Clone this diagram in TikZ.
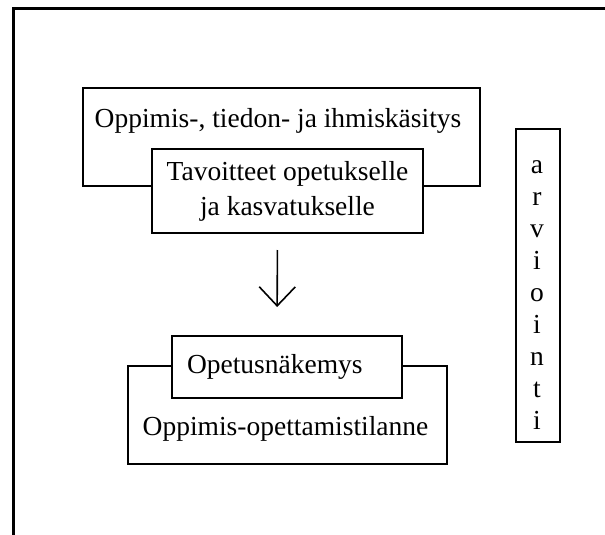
\documentclass[tikz,border=0pt]{standalone}
\usepackage{fontspec}
\setmainfont{Liberation Serif}
\usepackage{tikz}
\usetikzlibrary{arrows.meta,positioning}
\tikzset{
  kehys/.style={line width=3pt,line cap=rect},
  laatikko/.style={draw,line width=2pt,fill=white,inner sep=0pt},
  teksti/.style={font=\fontsize{27.5}{35}\selectfont},
  nuoli/.style={-{Straight Barb[length=19pt,width=36pt,line width=1.6pt]},line width=1.6pt}
}

\begin{document}
\begin{tikzpicture}[x=1pt,y=-1pt]
  \useasboundingbox (0,0) rectangle (605,535);
  \draw[kehys] (13,540) |- (610,9);
  % ylempi ryhma
  \node[laatikko,minimum width=397,minimum height=98] (kasitys) at (281.5,137) {};
  \node[teksti,anchor=base] (kasitysteksti) at (278,127) {Oppimis-, tiedon- ja ihmiskäsitys};
  \node[laatikko,teksti,align=center,minimum width=271,minimum height=84] (tavoitteet) at (287.5,191)
  {Tavoitteet opetukselle\\ja kasvatukselle};
  % alempi ryhma
  \node[laatikko,minimum width=319,minimum height=98] (tilanne) at (287.5,415) {};
  \node[teksti,anchor=base] (tilanneteksti) at (285.5,435) {Oppimis-opettamistilanne};
  \node[laatikko,teksti,text width=200pt,align=left,inner xsep=15pt,minimum height=62] (opetus) at (287,367)
  {Opetusnäkemys};
  \draw[nuoli,shorten <=16pt,shorten >=28pt] ([xshift=-10pt]tavoitteet.south) -- ([xshift=-10pt]opetus.north);
  % arviointi pystyyn
  \node[laatikko,minimum width=44,minimum height=313] (arviointi) at (538,285.5) {};
  \foreach \kirjain [count=\i] in {a,r,v,i,o,i,n,t,i}{
    \pgfmathsetmacro{\yy}{173+32.1*(\i-1)}
    \node[teksti,anchor=base] (kirjain\i) at (537,\yy) {\kirjain};
  }
\end{tikzpicture}
\end{document}
